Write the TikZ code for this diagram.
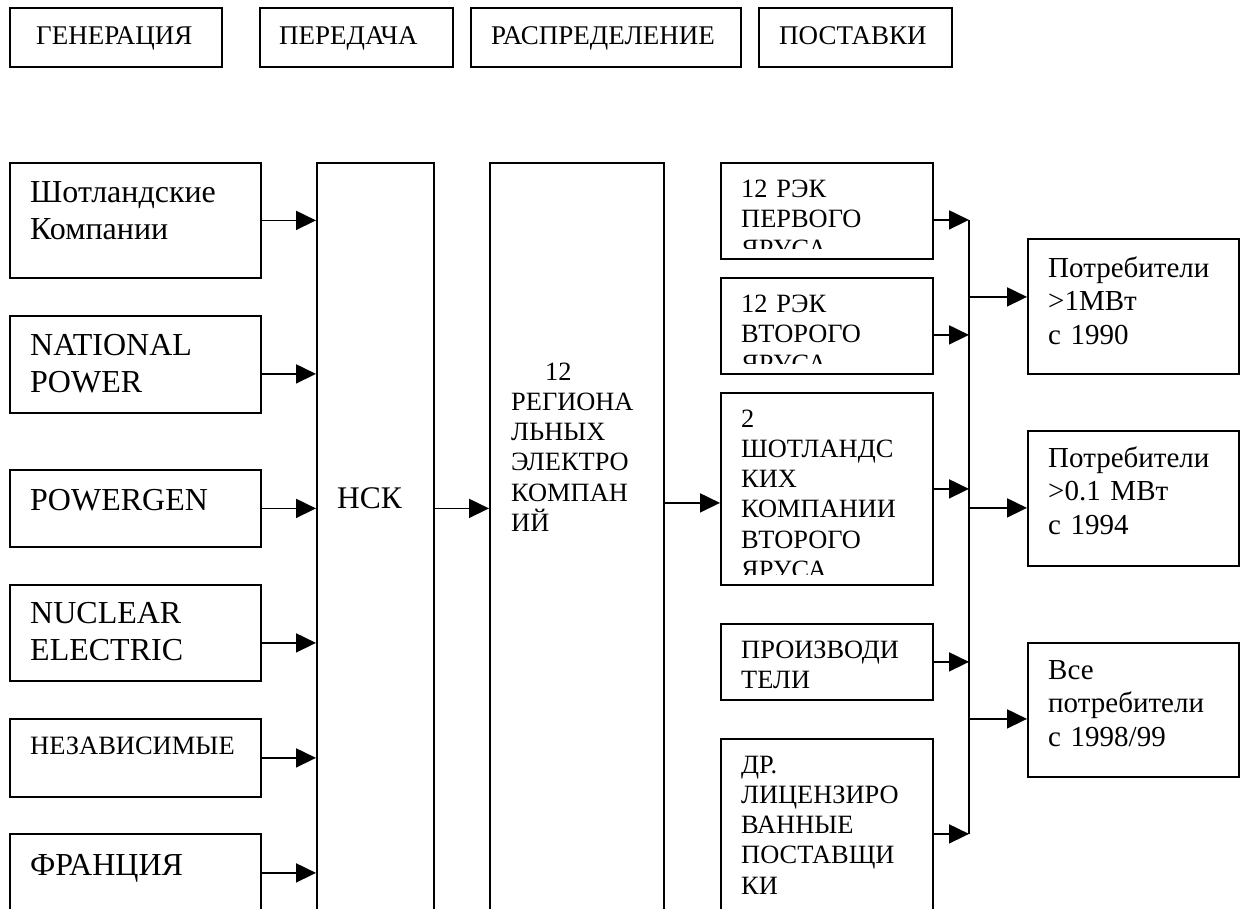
\documentclass[tikz,border=0pt]{standalone}
\usepackage{fontspec}
\setmainfont{Liberation Serif}
\usetikzlibrary{arrows.meta}
\begin{document}
\begin{tikzpicture}[x=1pt,y=-1pt,
  box/.style={draw, line width=1.8pt, inner sep=0pt, anchor=north west},
  txt/.style={inner sep=0pt, anchor=base west, align=left, text width=240pt},
  arr/.style={line width=1.8pt, -{Triangle[length=20pt,width=19pt]}},
  ln/.style={line width=1.8pt},
  f32/.style={font=\fontsize{32}{37}\selectfont},
  f31/.style={font=\fontsize{31.5}{36}\selectfont},
  f29/.style={font=\fontsize{29}{33.5}\selectfont},
  f27/.style={font=\fontsize{27}{30}\selectfont},
  f26/.style={font=\fontsize{26.4}{30.3}\selectfont},
  f25/.style={font=\fontsize{26.5}{30}\selectfont}]
\useasboundingbox (0,0) rectangle (1244,908);
\clip (0,0) rectangle (1244,908);

% top header boxes
\node[box, minimum width=212pt, minimum height=59pt] (gen) at (9,7) {};
\node[box, minimum width=193pt, minimum height=59pt] (per) at (259,7) {};
\node[box, minimum width=270pt, minimum height=59pt] (ras) at (470,7) {};
\node[box, minimum width=193pt, minimum height=59pt] (pos) at (758,7) {};
\node[txt,f27] (tgen) at (36,44) {ГЕНЕРАЦИЯ};
\node[txt,f27] (tper) at (279,44) {ПЕРЕДАЧА};
\node[txt,f27] (tras) at (491,44) {РАСПРЕДЕЛЕНИЕ};
\node[txt,f27] (tpos) at (779,44) {ПОСТАВКИ};

% generation column
\node[box, minimum width=251pt, minimum height=115pt] (shot) at (9,162) {};
\node[box, minimum width=251pt, minimum height=97pt] (nat) at (9,315) {};
\node[box, minimum width=251pt, minimum height=77pt] (pgen) at (9,469) {};
\node[box, minimum width=251pt, minimum height=96pt] (nuc) at (9,584) {};
\node[box, minimum width=251pt, minimum height=78pt] (nez) at (9,718) {};
\node[box, minimum width=251pt, minimum height=78pt] (fra) at (9,833) {};
\node[txt,f32] (tshot) at (30,202) {Шотландские\\Компании};
\node[txt,f32] (tnat) at (30,355) {NATIONAL\\POWER};
\node[txt,f32] (tpgen) at (30,510) {POWERGEN};
\node[txt,f32] (tnuc) at (30,623) {NUCLEAR\\ELECTRIC};
\node[txt,f25] (tnez) at (30,754) {НЕЗАВИСИМЫЕ};
\node[txt,f32] (tfra) at (30,875) {ФРАНЦИЯ};

% transmission
\node[box, minimum width=117pt, minimum height=760pt] (hck) at (316,162) {};
\node[txt,f31] (thck) at (337,508) {НСК};

% distribution
\node[box, minimum width=174pt, minimum height=760pt] (reg) at (489,162) {};
\node[txt,f26] (treg) at (511,380) {\hspace*{34pt}12\\РЕГИОНА\\ЛЬНЫХ\\ЭЛЕКТРО\\КОМПАН\\ИЙ};

% supply middle column
\node[box, minimum width=212pt, minimum height=96pt] (r1) at (720,162) {};
\node[box, minimum width=212pt, minimum height=96pt] (r2) at (720,277) {};
\node[box, minimum width=212pt, minimum height=192pt] (r3) at (720,392) {};
\node[box, minimum width=212pt, minimum height=76pt] (r4) at (720,623) {};
\node[box, minimum width=212pt, minimum height=190pt] (r5) at (720,738) {};
\begin{scope}
  \clip (r1.north west) rectangle ([yshift=11pt]r1.south east);
  \node[txt,f26] (tr1) at (741,197) {12 РЭК\\ПЕРВОГО\\ЯРУСА};
\end{scope}
\begin{scope}
  \clip (r2.north west) rectangle ([yshift=11pt]r2.south east);
  \node[txt,f26] (tr2) at (741,312) {12 РЭК\\ВТОРОГО\\ЯРУСА};
\end{scope}
\begin{scope}
  \clip (r3.north west) rectangle ([yshift=11pt]r3.south east);
  \node[txt,f26] (tr3) at (741,427) {2\\ШОТЛАНДС\\КИХ\\КОМПАНИИ\\ВТОРОГО\\ЯРУСА};
\end{scope}
\node[txt,f26] (tr4) at (741,658) {ПРОИЗВОДИ\\ТЕЛИ};
\node[txt,f26] (tr5) at (741,773) {ДР.\\ЛИЦЕНЗИРО\\ВАННЫЕ\\ПОСТАВЩИ\\КИ};

% consumers
\node[box, minimum width=211pt, minimum height=135pt] (p1) at (1027,238) {};
\node[box, minimum width=211pt, minimum height=135pt] (p2) at (1027,430) {};
\node[box, minimum width=211pt, minimum height=134pt] (p3) at (1027,642) {};
\node[txt,f29] (tp1) at (1048,277) {Потребители\\>1МВт\\с 1990};
\node[txt,f29] (tp2) at (1048,467) {Потребители\\>0.1 МВт\\с 1994};
\node[txt,f29] (tp3) at (1048,679) {Все\\потребители\\с 1998/99};

% generation -> НСК
\draw[arr] (shot.east) -- (shot.east -| hck.west);
\draw[arr] ([yshift=-9.5pt]nat.east) -- ([yshift=-9.5pt]nat.east -| hck.west);
\draw[arr] (pgen.east) -- (pgen.east -| hck.west);
\draw[arr] ([yshift=-10pt]nuc.east) -- ([yshift=-10pt]nuc.east -| hck.west);
\draw[arr] (nez.east) -- (nez.east -| hck.west);
\draw[arr] (fra.east) -- (fra.east -| hck.west);

% НСК -> regional
\draw[arr] (hck.east |- pgen.east) -- (reg.west |- pgen.east);
% regional -> Scottish second tier
\draw[arr] ([yshift=-14pt]r3.west -| reg.east) -- ([yshift=-14pt]r3.west);

% middle -> bus
\coordinate (bx) at (969,0);
\coordinate (b1) at ([yshift=-9pt]r1.east -| bx);
\coordinate (b5) at (r5.east -| bx);
\draw[arr] ([yshift=-9pt]r1.east) -- (b1);
\draw[arr] ([yshift=-9pt]r2.east) -- ([yshift=-9pt]r2.east -| bx);
\draw[arr] (r3.east) -- (r3.east -| bx);
\draw[arr] (r4.east) -- (r4.east -| bx);
\draw[arr] (r5.east) -- (b5);
\draw[ln] (b1) -- (b5);

% bus -> consumers
\draw[arr] ([yshift=9.5pt]p1.west -| bx) -- ([yshift=9.5pt]p1.west);
\draw[arr] ([yshift=-9.5pt]p2.west -| bx) -- ([yshift=-9.5pt]p2.west);
\draw[arr] ([yshift=-9pt]p3.west -| bx) -- ([yshift=-9pt]p3.west);
\end{tikzpicture}
\end{document}
